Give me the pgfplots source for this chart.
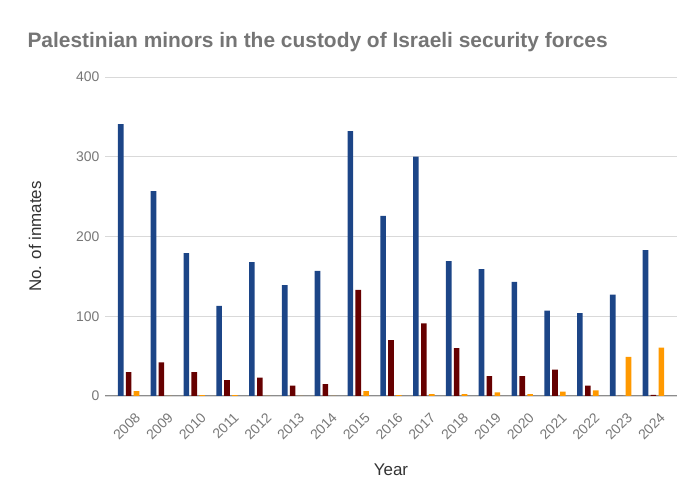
\documentclass[border=0pt]{standalone}
\usepackage{pgfplots}
\pgfplotsset{compat=1.18}
\usepackage{fontspec}
\setmainfont{Liberation Sans}
\definecolor{cblue}{HTML}{1C4587}
\definecolor{cred}{HTML}{660000}
\definecolor{corange}{HTML}{FF9900}
\definecolor{tgrey}{HTML}{757575}
\definecolor{lgrey}{HTML}{777777}
\begin{document}
\begin{tikzpicture}[x=1bp,y=1bp]
\path[use as bounding box] (0,0) rectangle (700,500);
\node[anchor=base west, text=tgrey, font=\fontsize{21}{24}\selectfont\bfseries] at (24,452) {Palestinian minors in the custody of Israeli security forces};
\begin{axis}[
  at={(105bp,104bp)}, anchor=south west,
  scale only axis, width=572bp, height=319bp,
  ybar=2.3bp, bar width=5.6bp,
  xmin=-0.72, xmax=16.72, ymin=0, ymax=400,
  xtick={0,...,16},
  xticklabels={2008,2009,2010,2011,2012,2013,2014,2015,2016,2017,2018,2019,2020,2021,2022,2023,2024},
  x tick label style={rotate=45, anchor=north east, font=\fontsize{14}{16}\selectfont, text=lgrey, inner sep=0bp, xshift=-7bp, yshift=-15bp},
  ytick={0,100,200,300,400},
  y tick label style={font=\fontsize{14}{16}\selectfont, text=lgrey, xshift=-2bp},
  /pgf/number format/assume math mode=true,
  ymajorgrids, grid style={draw=black!15, line width=0.8bp},
  axis line style={draw=none},
  major tick length=0pt,
  xlabel={Year}, ylabel={No. of inmates},
  xlabel style={font=\fontsize{17}{19}\selectfont, text=black!80, at={(axis description cs:0.5,0)}, yshift=-64bp},
  ylabel style={font=\fontsize{17}{19}\selectfont, text=black!80, yshift=28bp},
  extra y ticks={0}, extra y tick labels={},
  extra y tick style={grid style={draw=black!45, line width=1bp}},
  clip=false,
]
\addplot[fill=cblue, draw=none] coordinates {(0,341) (1,257) (2,179) (3,113) (4,168) (5,139) (6,157) (7,332) (8,226) (9,300) (10,169) (11,159) (12,143) (13,107) (14,104) (15,127) (16,183)};
\addplot[fill=cred, draw=none] coordinates {(0,30) (1,42) (2,30) (3,20) (4,23) (5,13) (6,15) (7,133) (8,70) (9,91) (10,60) (11,25) (12,25) (13,33) (14,13) (15,0) (16,1.5)};
\addplot[fill=corange, draw=none] coordinates {(0,6) (1,0) (2,1) (3,1) (4,0) (5,0) (6,0) (7,6) (8,1) (9,2.5) (10,2.5) (11,4.5) (12,2.5) (13,5.5) (14,7) (15,49) (16,60.5)};
\end{axis}
\end{tikzpicture}
\end{document}
